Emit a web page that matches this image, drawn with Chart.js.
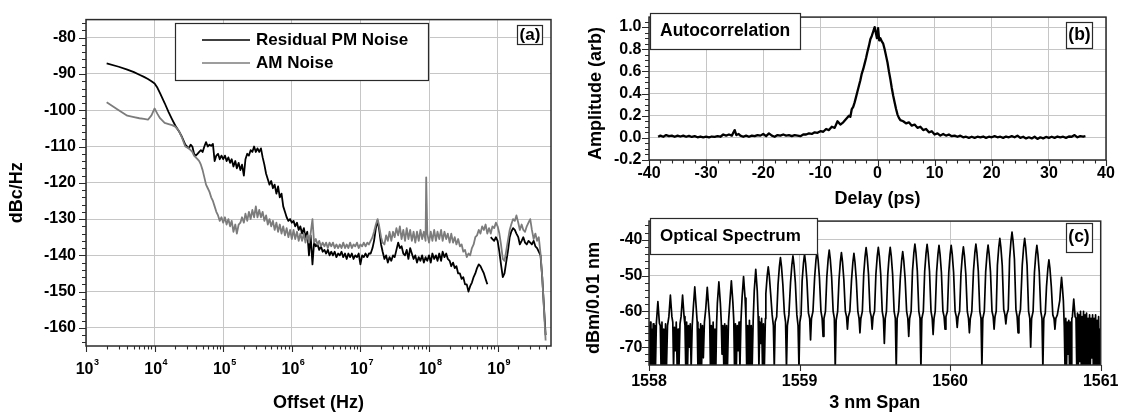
<!DOCTYPE html>
<html>
<head>
<meta charset="utf-8">
<script src="https://cdn.jsdelivr.net/npm/chart.js@4.4.1/dist/chart.umd.min.js"></script>
<style>
html,body{margin:0;padding:0;background:#fff;}
#wrap{position:relative;width:1125px;height:414px;overflow:hidden;background:#fff;}
canvas{position:absolute;}
</style>
</head>
<body>
<div id="wrap">
<canvas id="ca" width="560" height="414" style="left:0;top:0"></canvas>
<canvas id="cb" width="565" height="210" style="left:560px;top:0"></canvas>
<canvas id="cc" width="565" height="209" style="left:560px;top:205px"></canvas>
</div>
<script>
// ================= Panel (a): residual PM noise and AM noise =================
const offsetHz = [
  2e3,3e3,4e3,5e3,6e3,7e3,8e3,9e3,1e4,1.1e4,1.2e4,1.4e4,1.6e4,1.8e4,2e4,2.25e4,2.5e4,2.8e4,
  3.16e4,3.35e4,3.55e4,3.76e4,3.98e4,4.22e4,4.47e4,4.73e4,5.01e4,5.31e4,
  5.62e4,5.96e4,6.31e4,6.68e4,7.08e4,7.5e4,7.94e4,8.41e4,8.91e4,9.44e4,
  1e5,1.06e5,1.12e5,1.19e5,1.26e5,1.33e5,1.41e5,1.5e5,1.58e5,1.68e5,
  1.78e5,1.88e5,2e5,2.11e5,2.24e5,2.37e5,2.51e5,2.66e5,2.82e5,2.99e5,
  3.16e5,3.35e5,3.55e5,3.76e5,3.98e5,4.22e5,4.47e5,4.73e5,5.01e5,5.31e5,
  5.62e5,5.96e5,6.31e5,6.68e5,7.08e5,7.5e5,7.94e5,8.41e5,8.91e5,9.44e5,
  1e6,1.06e6,1.12e6,1.19e6,1.26e6,1.33e6,1.41e6,1.5e6,1.58e6,1.68e6,
  1.78e6,1.88e6,2e6,2.11e6,2.24e6,2.37e6,2.51e6,2.66e6,2.82e6,2.99e6,
  3.16e6,3.35e6,3.55e6,3.76e6,3.98e6,4.22e6,4.47e6,4.73e6,5.01e6,5.31e6,
  5.62e6,5.96e6,6.31e6,6.68e6,7.08e6,7.5e6,7.94e6,8.41e6,8.91e6,9.44e6,
  1e7,1.06e7,1.12e7,1.19e7,1.26e7,1.33e7,1.41e7,1.5e7,1.58e7,1.68e7,
  1.78e7,1.88e7,2e7,2.11e7,2.24e7,2.37e7,2.51e7,2.66e7,2.82e7,2.99e7,
  3.16e7,3.35e7,3.55e7,3.76e7,3.98e7,4.22e7,4.47e7,4.73e7,5.01e7,5.31e7,
  5.62e7,5.96e7,6.31e7,6.68e7,7.08e7,7.5e7,7.94e7,8.41e7,8.91e7,9.1e7,9.44e7,
  1e8,1.06e8,1.12e8,1.19e8,1.26e8,1.33e8,1.41e8,1.5e8,1.58e8,1.68e8,
  1.78e8,1.88e8,2e8,2.11e8,2.24e8,2.37e8,2.51e8,2.66e8,2.82e8,2.99e8,
  3.16e8,3.35e8,3.55e8,3.76e8,3.98e8,4.22e8,4.47e8,4.73e8,5.01e8,5.31e8,
  5.62e8,5.96e8,6.31e8,6.68e8,7.08e8,7.5e8,7.94e8,8.41e8,8.91e8,9.44e8,
  1e9,1.06e9,1.12e9,1.19e9,1.26e9,1.33e9,1.41e9,1.5e9,1.58e9,1.68e9,
  1.78e9,1.88e9,2e9,2.11e9,2.24e9,2.37e9,2.51e9,2.66e9,2.82e9,2.99e9,
  3.16e9,3.35e9,3.55e9,3.76e9,3.98e9,4.22e9,4.47e9,4.73e9,5.01e9
];
const pmNoise = [
  -87.1,-88,-88.8,-89.5,-90.2,-90.8,-91.4,-92,-92.6,-93.8,-95.3,-98,-100.5,-102.5,-104.2,-105.7,-107.3,-109.5,
  -110.5,-109.5,-110,-112,-112.5,-112,-111.5,-111,-111.5,-110,
  -108.8,-110,-109.5,-109.8,-109.3,-114,-112.5,-112,-113.5,-112.5,
  -113.5,-112.5,-114,-113,-114.5,-113.5,-115.5,-114,-116,-114.5,
  -116.5,-115,-118,-113.5,-112,-112.5,-111,-111.5,-110,-111.5,
  -110.5,-111.5,-110.5,-113,-115,-117.5,-119,-120.5,-119.5,-121.5,
  -120.5,-123,-121,-124,-123,-126.5,-128,-129.5,-130.5,-130,
  -131,-130.5,-132,-131,-133,-132,-134,-132.5,-135,-133.5,
  -140,-134.5,-142.5,-136.5,-137.5,-137,-138.5,-137.5,-139,-138.5,
  -139.5,-138.5,-140,-139,-140,-139,-140.5,-139.5,-140,-139,
  -140.5,-139.5,-141,-139.5,-140.5,-139.5,-141,-140,-140.5,-139.5,
  -142.5,-140,-140.5,-139.5,-140.5,-139.5,-139.5,-138,-136,-132.5,
  -130.5,-133,-137,-139,-141,-140,-142,-140.5,-141.5,-140,
  -140.5,-138.5,-136.5,-138,-137.5,-139.5,-140,-138.5,-141,-138,
  -139.5,-141,-140,-142,-140.5,-141.5,-140,-142,-140.5,-141,-141.5,
  -140,-142,-139.5,-141,-140,-141.5,-139.5,-141.5,-139,-140.5,
  -139.5,-141,-141.5,-143,-142,-143.5,-143,-145,-145,-146.5,
  -146,-148,-148,-150,-148.5,-147.5,-146,-145,-143.5,-142.5,
  -143,-144,-145,-146.5,-148,null,-135,-135.5,-136,-135,
  -136,-139,-142.5,-146,-145,-142,-139,-135,-133.5,-132.5,
  -133,-134,-135,-137,-136,-135,-136.5,-137,-136,-136.5,
  -137,-136,-137.5,-138,-139,-140,-146,-154,-162
];
const amNoise = [
  -97.8,-100,-101.5,-101.9,-102.2,-102.4,-102.6,-101.4,-99.5,-101,-102.2,-103.5,-103.8,-104.1,-104.5,-105.6,-107.5,-110,
  -110.5,-111,-111.5,-112.5,-113,-113.5,-114,-115,-116.5,-118.5,
  -120.5,-121.5,-122.5,-124,-125,-126.5,-128,-129,-130.5,-129.5,
  -131,-129.5,-131.5,-130,-132,-130.5,-133.5,-131.5,-134,-131.5,
  -131,-129.5,-131,-128.5,-130.5,-128,-130,-127.5,-129.5,-126.5,
  -129.5,-127.5,-129.5,-128,-130.5,-129,-131.5,-130,-132,-130.5,
  -133,-131,-133.5,-131.5,-134,-132,-134.5,-132.5,-135,-133,
  -135.5,-133,-135.5,-133.5,-136,-134,-136,-134,-136.5,-134.5,
  -136.5,-134,-130,-136.5,-135.5,-137,-136,-137.5,-136.5,-137.5,
  -136.5,-138,-136.5,-137.5,-136.5,-138,-137,-138,-137,-138,
  -136.5,-138,-137,-138,-136.5,-138,-137,-137.5,-136.5,-138,
  -137,-137.5,-136.5,-137.5,-136.5,-137,-136,-135,-133.5,-131.5,
  -130,-132,-135,-136.5,-137,-134.5,-136,-133.5,-136,-133.5,
  -135,-132.5,-134.5,-132,-135.5,-133,-136,-132.5,-135.5,-133,
  -136,-133.5,-136.5,-133.5,-136,-133,-135.5,-133.5,-136,-118.5,-134,
  -136.5,-133.5,-136,-133,-136,-133.5,-135.5,-133,-136,-133.5,
  -135.5,-134,-136.5,-134,-136.5,-135,-137,-135.5,-137.5,-137,
  -139,-138.5,-140.5,-139.5,-140,-138,-137,-135,-134.5,-133,
  -134,-132,-133,-131.5,-134,-132.5,-134,-132,-132.5,-131,
  -132,-134,-137,-141,-141.5,-139,-136,-133,-131.5,-130,
  -130.5,-129,-131,-133,-131.5,-133,-133.5,-132,-131,-130,
  -133,-135.5,-134,-136,-135,-139.5,-146,-154.5,-163.5
];
const offsetTicks = [1e3,1e4,1e5,1e6,1e7,1e8,1e9];
const offsetTickBase = ['10','10','10','10','10','10','10'];
const offsetTickExp = ['3','4','5','6','7','8','9'];
const dbcTicks = [-160,-150,-140,-130,-120,-110,-100,-90,-80];
const dbcTickLabels = ['-160','-150','-140','-130','-120','-110','-100','-90','-80'];

// ================= Panel (b): autocorrelation =================
const delayPs = [
  -38.4,-38,-37.5,-37,-36.5,-36,-35.5,-35,-34.5,-34,
  -33.5,-33,-32.5,-32,-31.5,-31,-30.5,-30,-29.5,-29,
  -28.5,-28,-27.5,-27,-26.5,-26,-25.5,-25,-24.7,-24.3,
  -24,-23.5,-23,-22.5,-22,-21.5,-21,-20.5,-20,-19.5,
  -19,-18.5,-18,-17.5,-17,-16.5,-16,-15.5,-15,-14.5,
  -14,-13.5,-13,-12.5,-12,-11.5,-11,-10.5,-10,-9.5,
  -9,-8.5,-8,-7.5,-7,-6.5,-6,-5.5,-5,-4.75,
  -4.5,-4.25,-4,-3.75,-3.5,-3.25,-3,-2.75,-2.5,-2.25,
  -2,-1.75,-1.5,-1.25,-1,-0.75,-0.5,-0.3,-0.1,0.1,
  0.3,0.5,0.75,1,1.25,1.5,1.75,2,2.25,2.5,
  2.75,3,3.25,3.5,3.75,4,4.5,5,5.5,6,
  6.5,7,7.5,8,8.5,9,9.5,10,10.5,11,
  11.5,12,12.5,13,13.5,14,14.5,15,15.5,16,
  16.5,17,17.5,18,18.5,19,19.5,20,20.5,21,
  21.5,22,22.5,23,23.5,24,24.5,25,25.5,26,
  26.5,27,27.5,28,28.5,29,29.5,30,30.5,31,
  31.5,32,32.5,33,33.5,34,34.5,35,35.5,36,
  36.4
];
const amplitude = [
  0.01,0.02,0.01,0.025,0.015,0.02,0.01,0.02,0.012,0.02,
  0.01,0.018,0.008,0.015,0.005,0.012,0.005,0.01,0.004,0.012,
  0.008,0.015,0.01,0.03,0.02,0.03,0.02,0.07,0.025,0.035,
  0.02,0.01,0.02,0.01,0.02,0.015,0.025,0.02,0.035,0.015,
  0.04,0.02,0.01,0.025,0.02,0.03,0.02,0.025,0.015,0.025,
  0.02,0.015,0.03,0.03,0.04,0.035,0.05,0.045,0.06,0.055,
  0.08,0.07,0.1,0.09,0.15,0.12,0.14,0.17,0.2,0.19,
  0.26,0.28,0.32,0.37,0.42,0.47,0.52,0.58,0.62,0.67,
  0.72,0.78,0.83,0.89,0.92,0.96,1.0,0.95,0.9,0.99,
  0.88,0.9,0.87,0.85,0.8,0.74,0.68,0.6,0.53,0.45,
  0.38,0.32,0.26,0.21,0.18,0.16,0.15,0.13,0.14,0.11,
  0.12,0.09,0.1,0.07,0.08,0.05,0.06,0.03,0.04,0.02,
  0.035,0.02,0.03,0.015,0.02,0.01,0.02,0.005,0.01,0.0,
  0.01,0.0,0.01,0.005,0.012,0.0,0.01,0.005,0.015,0.005,
  0.01,0.0,0.012,0.005,0.015,0.005,0.02,0.0,0.01,-0.005,
  0.005,-0.005,0.01,-0.01,0.005,-0.005,0.008,0.0,0.01,0.0,
  0.012,0.005,0.01,0.0,0.012,0.01,0.025,0.005,0.015,0.01,
  0.015
];
const delayTicks = [-40,-30,-20,-10,0,10,20,30,40];
const delayTickLabels = ['-40','-30','-20','-10','0','10','20','30','40'];
const amplitudeTicks = [-0.2,0,0.2,0.4,0.6,0.8,1.0];
const amplitudeTickLabels = ['-0.2','0.0','0.2','0.4','0.6','0.8','1.0'];

// ================= Panel (c): optical spectrum =================
const wavelengthNm = [
  1558.000,1558.004,1558.008,1558.013,1558.018,1558.023,1558.028,1558.033,1558.038,1558.043,
  1558.049,1558.059,1558.069,1558.075,1558.080,1558.086,1558.092,1558.098,1558.104,1558.110,1558.116,1558.123,
  1558.132,1558.142,1558.152,1558.158,1558.163,1558.169,1558.175,1558.181,1558.187,1558.193,1558.199,1558.206,
  1558.213,1558.223,1558.233,1558.239,1558.244,1558.250,1558.256,1558.262,1558.268,1558.274,1558.280,1558.287,
  1558.294,1558.304,1558.314,1558.320,1558.325,1558.331,1558.337,1558.343,1558.349,1558.355,1558.361,1558.368,
  1558.377,1558.387,1558.397,1558.403,1558.408,1558.414,1558.420,1558.426,1558.432,1558.438,1558.444,1558.449,
  1558.454,1558.464,1558.474,1558.480,1558.485,1558.491,1558.497,1558.503,1558.509,1558.515,1558.521,1558.528,
  1558.537,1558.547,1558.557,1558.563,1558.568,1558.574,1558.580,1558.586,1558.592,1558.598,1558.604,1558.611,
  1558.618,1558.628,1558.638,1558.644,1558.649,1558.655,1558.661,1558.667,1558.673,1558.679,1558.685,1558.692,
  1558.699,1558.709,1558.719,1558.725,1558.730,1558.736,1558.742,1558.748,1558.754,1558.760,1558.766,1558.773,
  1558.776,1558.785,1558.792,1558.799,1558.808,1558.818,1558.826,1558.832,1558.838,1558.848,
  1558.857,1558.866,1558.873,1558.880,1558.889,1558.899,1558.907,1558.913,1558.919,1558.929,
  1558.940,1558.949,1558.956,1558.963,1558.972,1558.982,1558.990,1558.996,1559.002,1559.010,
  1559.017,1559.026,1559.033,1559.040,1559.049,1559.059,1559.067,1559.073,1559.079,1559.089,
  1559.100,1559.109,1559.116,1559.123,1559.132,1559.142,1559.150,1559.156,1559.162,1559.172,
  1559.181,1559.190,1559.197,1559.204,1559.213,1559.223,1559.231,1559.237,1559.243,1559.253,
  1559.262,1559.271,1559.278,1559.285,1559.294,1559.304,1559.312,1559.318,1559.324,1559.334,
  1559.345,1559.354,1559.361,1559.368,1559.377,1559.387,1559.395,1559.401,1559.407,1559.417,
  1559.426,1559.435,1559.442,1559.449,1559.458,1559.468,1559.476,1559.482,1559.488,1559.498,
  1559.507,1559.516,1559.523,1559.530,1559.539,1559.549,1559.557,1559.563,1559.569,1559.577,
  1559.586,1559.595,1559.602,1559.609,1559.618,1559.628,1559.636,1559.642,1559.648,1559.658,
  1559.669,1559.678,1559.685,1559.692,1559.701,1559.711,1559.719,1559.725,1559.731,1559.741,
  1559.750,1559.759,1559.766,1559.773,1559.782,1559.792,1559.800,1559.806,1559.812,1559.822,
  1559.831,1559.840,1559.847,1559.854,1559.863,1559.873,1559.881,1559.887,1559.893,1559.901,
  1559.910,1559.919,1559.926,1559.933,1559.942,1559.952,1559.960,1559.966,1559.972,1559.982,
  1559.991,1560.000,1560.007,1560.014,1560.023,1560.033,1560.041,1560.047,1560.053,1560.063,
  1560.072,1560.081,1560.088,1560.095,1560.104,1560.114,1560.122,1560.128,1560.134,1560.144,
  1560.155,1560.164,1560.171,1560.178,1560.187,1560.197,1560.205,1560.211,1560.217,1560.227,
  1560.236,1560.245,1560.252,1560.259,1560.268,1560.278,1560.286,1560.292,1560.298,1560.306,
  1560.314,1560.323,1560.330,1560.337,1560.346,1560.356,1560.364,1560.370,1560.376,1560.386,
  1560.395,1560.404,1560.411,1560.418,1560.427,1560.437,1560.445,1560.451,1560.457,1560.467,
  1560.479,1560.488,1560.495,1560.502,1560.511,1560.521,1560.529,1560.535,1560.541,1560.551,
  1560.560,1560.569,1560.576,1560.583,1560.592,1560.602,1560.610,1560.616,1560.622,1560.632,
  1560.640,1560.649,1560.656,1560.663,1560.672,1560.682,1560.690,1560.696,1560.702,1560.712,
  1560.728,1560.734,1560.740,1560.746,1560.752,1560.758,1560.763,1560.768,1560.773,1560.778,1560.783,1560.788,1560.793,1560.798,1560.803,1560.808,
  1560.812,1560.821,1560.830,
  1560.836,1560.841,1560.846,1560.851,1560.856,1560.861,1560.866,1560.871,1560.876,1560.881,
  1560.886,1560.891,1560.896,1560.901,1560.906,1560.911,1560.916,1560.921,1560.926,1560.931,
  1560.936,1560.941,1560.946,1560.951,1560.956,1560.961,1560.966,1560.971,1560.976,1560.981,
  1560.986,1560.991,1560.996,1561.000
];
const powerDbm = [
  -64,-76,-63,-76,-65,-76,-63.5,-75,-64,-76,
  -63.3,-57.3,-63.3,-64,-76,-63,-76,-65,-76,-63.5,-76,-64,
  -61.5,-55.5,-61.5,-63,-76,-64.5,-71,-63,-76,-65,-76,-63.5,
  -61.5,-55.5,-61.5,-64,-76,-63,-76,-64,-70,-63.5,-76,-64,
  -59.2,-53.2,-59.2,-63,-76,-65,-76,-63.5,-76,-64,-73,-63,
  -59.3,-53.3,-59.3,-62.5,-76,-64,-76,-63,-76,-65,-76,-63.5,
  -57.8,-51.8,-57.8,-63,-72,-64,-76,-63.5,-76,-64,-76,-63,
  -57.5,-51.5,-57.5,-62.5,-76,-63.5,-76,-64,-71,-63,-76,-62.5,
  -56.3,-50.3,-56.3,-62,-76,-64,-76,-62.5,-76,-64,-76,-62.5,
  -54.3,-48.3,-54.3,-61.5,-76,-63,-69,-62,-76,-63.5,-76,-62,
  -55.1,-50.1,-47.6,-50.1,-55.1,-61,-64,-76,-63,-61.5,
  -52.5,-47.5,-45,-47.5,-52.5,-60.5,-63,-76,-64,-61,
  -52,-47,-44.5,-47,-52,-61,-64,-76,-63,-61,
  -51.5,-46.5,-44,-46.5,-51.5,-60.5,-62,-68,-62,-60,
  -50.6,-45.6,-43.1,-45.6,-50.6,-60,-62,-67,-62,-60,
  -50.4,-45.4,-42.9,-45.4,-50.4,-60,-62,-76,-62.5,-60,
  -51.1,-46.1,-43.6,-46.1,-51.1,-60,-61.5,-65,-61.5,-60,
  -51.3,-46.3,-43.8,-46.3,-51.3,-60,-62,-66,-62,-60,
  -49.7,-44.7,-42.2,-44.7,-49.7,-60,-61.5,-65,-61.5,-60,
  -49.6,-44.6,-42.1,-44.6,-49.6,-60,-62,-69,-62,-60,
  -49.6,-44.6,-42.1,-44.6,-49.6,-60,-62,-76,-62,-60,
  -50.8,-45.8,-43.3,-45.8,-50.8,-60,-62,-67,-62,-60,
  -48.7,-43.7,-41.2,-43.7,-48.7,-60,-62,-76,-62,-60,
  -48.8,-43.8,-41.3,-43.8,-48.8,-60,-62,-66.5,-62,-60,
  -49.1,-44.1,-41.6,-44.1,-49.1,-60,-61.5,-65,-61.5,-60,
  -49.1,-44.1,-41.6,-44.1,-49.1,-60,-61.5,-64.5,-61.5,-60,
  -49.5,-44.5,-42,-44.5,-49.5,-60,-62,-66,-62,-60,
  -48.7,-43.7,-41.2,-43.7,-48.7,-60,-62,-76,-62,-60,
  -49,-44,-41.5,-44,-49,-60,-61.5,-65,-61.5,-60,
  -47.1,-42.1,-39.6,-42.1,-47.1,-59.5,-61,-63.5,-61,-59.5,
  -45.4,-40.4,-37.9,-40.4,-45.4,-59.5,-61.5,-66,-61.5,-59.5,
  -47.1,-42.1,-39.6,-42.1,-47.1,-60,-62,-70,-62,-60,
  -49.1,-44.1,-41.6,-44.1,-49.1,-60,-62,-76,-62,-60.5,
  -53.1,-48.1,-45.6,-48.1,-53.1,-61,-62,-65,-62,-61,
  -57,-53.5,-50.5,-53.5,-57,-64,-76,-62,-76,-63,-72,-62.5,-76,-63,-76,-62,
  -61.5,-56.6,-61.5,
  -62,-76,-60.5,-76,-61,-74,-60,-76,-61.5,-76,
  -60,-76,-61,-75,-60.5,-76,-62,-76,-61,-76,
  -62,-73,-61,-76,-62,-76,-61,-76,-62.5,-76,
  -61.5,-76,-65,-68
];
const wavelengthTicks = [1558,1559,1560,1561];
const wavelengthTickLabels = ['1558','1559','1560','1561'];
const spectrumTicks = [-70,-60,-50,-40];
const spectrumTickLabels = ['-70','-60','-50','-40'];

if (offsetHz.length !== pmNoise.length || offsetHz.length !== amNoise.length) throw new Error('panel a lengths ' + offsetHz.length + ' ' + pmNoise.length + ' ' + amNoise.length);
if (delayPs.length !== amplitude.length) throw new Error('panel b lengths ' + delayPs.length + ' ' + amplitude.length);
if (wavelengthNm.length !== powerDbm.length) throw new Error('panel c lengths ' + wavelengthNm.length + ' ' + powerDbm.length);

// ================= common styling =================
const FONT = "'Liberation Sans', Arial, Helvetica, sans-serif";
Chart.defaults.font.family = FONT;
Chart.defaults.font.size = 16;
Chart.defaults.font.weight = 'bold';
Chart.defaults.color = '#000';
const GRID = '#c6c6c6';
const INK = '#2a2a2a';

function minorList(from, to, step, majors) {
  const out = [];
  for (let v = from; v <= to + 1e-9; v += step) {
    const r = Math.round(v * 1000) / 1000;
    if (!majors.some(m => Math.abs(m - r) < 1e-6)) out.push(r);
  }
  return out;
}

function makeDecor(cfg) {
  return {
    id: 'decor',
    afterDatasetsDraw(chart) {
      const ctx = chart.ctx, a = chart.chartArea;
      const xs = chart.scales.x, ys = chart.scales.y;
      ctx.save();
      ctx.strokeStyle = INK;
      ctx.lineWidth = 1.5;
      ctx.strokeRect(a.left, a.top, a.right - a.left, a.bottom - a.top);
      ctx.lineWidth = 1.1;
      ctx.beginPath();
      const xt = (v, len) => { const p = Math.round(xs.getPixelForValue(v)) + 0.5; ctx.moveTo(p, a.bottom); ctx.lineTo(p, a.bottom + len); };
      const yt = (v, len) => { const p = Math.round(ys.getPixelForValue(v)) + 0.5; ctx.moveTo(a.left, p); ctx.lineTo(a.left - len, p); };
      cfg.xMajor.forEach(v => xt(v, 6));
      cfg.xMinor.forEach(v => xt(v, 3.5));
      cfg.yMajor.forEach(v => yt(v, 7));
      cfg.yMinor.forEach(v => yt(v, 4));
      ctx.stroke();
      if (cfg.logLabels) {
        ctx.fillStyle = '#000';
        cfg.logLabels.values.forEach((v, i) => {
          const p = xs.getPixelForValue(v);
          ctx.font = 'bold 16px ' + FONT;
          ctx.textAlign = 'right';
          ctx.textBaseline = 'alphabetic';
          ctx.fillText(cfg.logLabels.base[i], p + 7.5, a.bottom + 28);
          ctx.font = 'bold 9px ' + FONT;
          ctx.textAlign = 'left';
          ctx.fillText(cfg.logLabels.exp[i], p + 8, a.bottom + 19);
        });
      }
      cfg.boxes.forEach(b => {
        ctx.fillStyle = '#fff';
        ctx.fillRect(b.x, b.y, b.w, b.h);
        ctx.strokeStyle = INK;
        ctx.lineWidth = 1.2;
        ctx.strokeRect(b.x + 0.5, b.y + 0.5, b.w, b.h);
        ctx.fillStyle = '#000';
        ctx.font = 'bold ' + (b.size || 17) + 'px ' + FONT;
        ctx.textBaseline = 'middle';
        if (b.text) {
          ctx.textAlign = b.align || 'center';
          ctx.fillText(b.text, b.tx, b.ty);
        }
        if (b.legend) {
          chart.data.datasets.forEach((ds, i) => {
            const y = b.legend.y[i];
            ctx.strokeStyle = ds.borderColor;
            ctx.lineWidth = 1.6;
            ctx.beginPath();
            ctx.moveTo(b.legend.x0, y); ctx.lineTo(b.legend.x1, y);
            ctx.stroke();
            ctx.textAlign = 'left';
            ctx.fillText(ds.label, b.legend.tx, y);
          });
        }
      });
      ctx.restore();
    }
  };
}

function linAxis(o) {
  return {
    type: o.type || 'linear',
    min: o.min, max: o.max,
    afterBuildTicks: s => { s.ticks = o.ticks.map(v => ({value: v})); },
    afterFit: s => { if (o.width) s.width = o.width; if (o.height) s.height = o.height; },
    ticks: { display: o.showLabels !== false, autoSkip: false, maxRotation: 0, padding: o.pad,
             callback: (v, i) => o.labels ? o.labels[i] : '' },
    grid: { color: GRID, lineWidth: 1, drawTicks: false },
    border: { display: false },
    title: { display: true, text: o.title, font: { size: 18, weight: 'bold' }, padding: o.titlePad }
  };
}

const baseOpts = {
  responsive: false, animation: false, devicePixelRatio: 1,
  elements: { point: { radius: 0 }, line: { tension: 0, borderJoinStyle: 'round', fill: false } },
  plugins: { legend: { display: false }, tooltip: { enabled: false } }
};

// ---------- Chart (a) ----------
const logMinor = [];
for (let d = 3; d <= 9; d++) for (let m = 2; m <= 9; m++) { const v = m * Math.pow(10, d); if (v < 6e9) logMinor.push(v); }

new Chart(document.getElementById('ca'), {
  type: 'line',
  data: { datasets: [
    { label: 'Residual PM Noise', data: offsetHz.map((f, i) => ({x: f, y: pmNoise[i]})), borderColor: '#000', borderWidth: 1.8, order: 1 },
    { label: 'AM Noise', data: offsetHz.map((f, i) => ({x: f, y: amNoise[i]})), borderColor: '#7c7c7c', borderWidth: 1.8, order: 0 }
  ]},
  options: Object.assign({}, baseOpts, {
    layout: { padding: { left: 0, top: 10, right: 9, bottom: 0 } },
    scales: {
      x: linAxis({ type: 'logarithmic', min: 1e3, max: 6e9, ticks: offsetTicks, showLabels: false, height: 68,
                   title: 'Offset (Hz)', titlePad: { top: 0, bottom: 0 } }),
      y: linAxis({ min: -165, max: -75, ticks: dbcTicks, labels: dbcTickLabels, width: 86, pad: 10,
                   title: 'dBc/Hz    ', titlePad: { top: 6, bottom: 0 } })
    }
  }),
  plugins: [makeDecor({
    xMajor: offsetTicks, xMinor: logMinor,
    yMajor: dbcTicks, yMinor: minorList(-164, -76, 2, dbcTicks),
    logLabels: { values: offsetTicks, base: offsetTickBase, exp: offsetTickExp },
    boxes: [
      { x: 175, y: 23, w: 253, h: 57, legend: { x0: 202, x1: 250, tx: 256, y: [40, 63] } },
      { x: 517, y: 25, w: 25, h: 19, text: '(a)', tx: 530, ty: 35 }
    ]
  })]
});

// ---------- Chart (b) ----------
new Chart(document.getElementById('cb'), {
  type: 'line',
  data: { datasets: [
    { label: 'Autocorrelation', data: delayPs.map((d, i) => ({x: d, y: amplitude[i]})), borderColor: '#000', borderWidth: 2.3 }
  ]},
  options: Object.assign({}, baseOpts, {
    layout: { padding: { left: 0, top: 13, right: 19, bottom: 0 } },
    scales: {
      x: linAxis({ min: -40, max: 40, ticks: delayTicks, labels: delayTickLabels, height: 50, pad: 4,
                   title: 'Delay (ps)', titlePad: { top: 0, bottom: 0 } }),
      y: linAxis({ min: -0.2, max: 1.09, ticks: amplitudeTicks, labels: amplitudeTickLabels, width: 89, pad: 7.5,
                   title: 'Amplitude (arb)  ', titlePad: { top: 25, bottom: 0 } })
    }
  }),
  plugins: [makeDecor({
    xMajor: delayTicks, xMinor: minorList(-38, 38, 2, delayTicks),
    yMajor: amplitudeTicks, yMinor: minorList(-0.15, 1.05, 0.05, amplitudeTicks),
    boxes: [
      { x: 90, y: 13, w: 150, h: 36, text: 'Autocorrelation', align: 'left', tx: 100, ty: 31.5, size: 17.5 },
      { x: 506, y: 22, w: 26, h: 26, text: '(b)', tx: 519.5, ty: 35, size: 17.5 }
    ]
  })]
});

// ---------- Chart (c) ----------
new Chart(document.getElementById('cc'), {
  type: 'line',
  data: { datasets: [
    { label: 'Optical Spectrum', data: wavelengthNm.map((w, i) => ({x: w, y: powerDbm[i]})), borderColor: '#000', borderWidth: 1.7 }
  ]},
  options: Object.assign({}, baseOpts, {
    layout: { padding: { left: 0, top: 11, right: 18, bottom: 0 } },
    scales: {
      x: linAxis({ min: 1558, max: 1561, ticks: wavelengthTicks, labels: wavelengthTickLabels, height: 49, pad: 6.5,
                   title: '3 nm Span', titlePad: { top: 0, bottom: 0 } }),
      y: linAxis({ min: -75, max: -34.8, ticks: spectrumTicks, labels: spectrumTickLabels, width: 89, pad: 6.5,
                   title: 'dBm/0.01 nm  ', titlePad: { top: 23, bottom: 0 } })
    }
  }),
  plugins: [makeDecor({
    xMajor: wavelengthTicks, xMinor: [],
    yMajor: spectrumTicks, yMinor: minorList(-74, -36, 2, spectrumTicks),
    boxes: [
      { x: 90, y: 13, w: 167, h: 36, text: 'Optical Spectrum', align: 'left', tx: 100, ty: 31.5, size: 17 },
      { x: 506, y: 18, w: 26, h: 29, text: '(c)', tx: 519, ty: 32.5, size: 17.5 }
    ]
  })]
});
</script>
</body>
</html>
